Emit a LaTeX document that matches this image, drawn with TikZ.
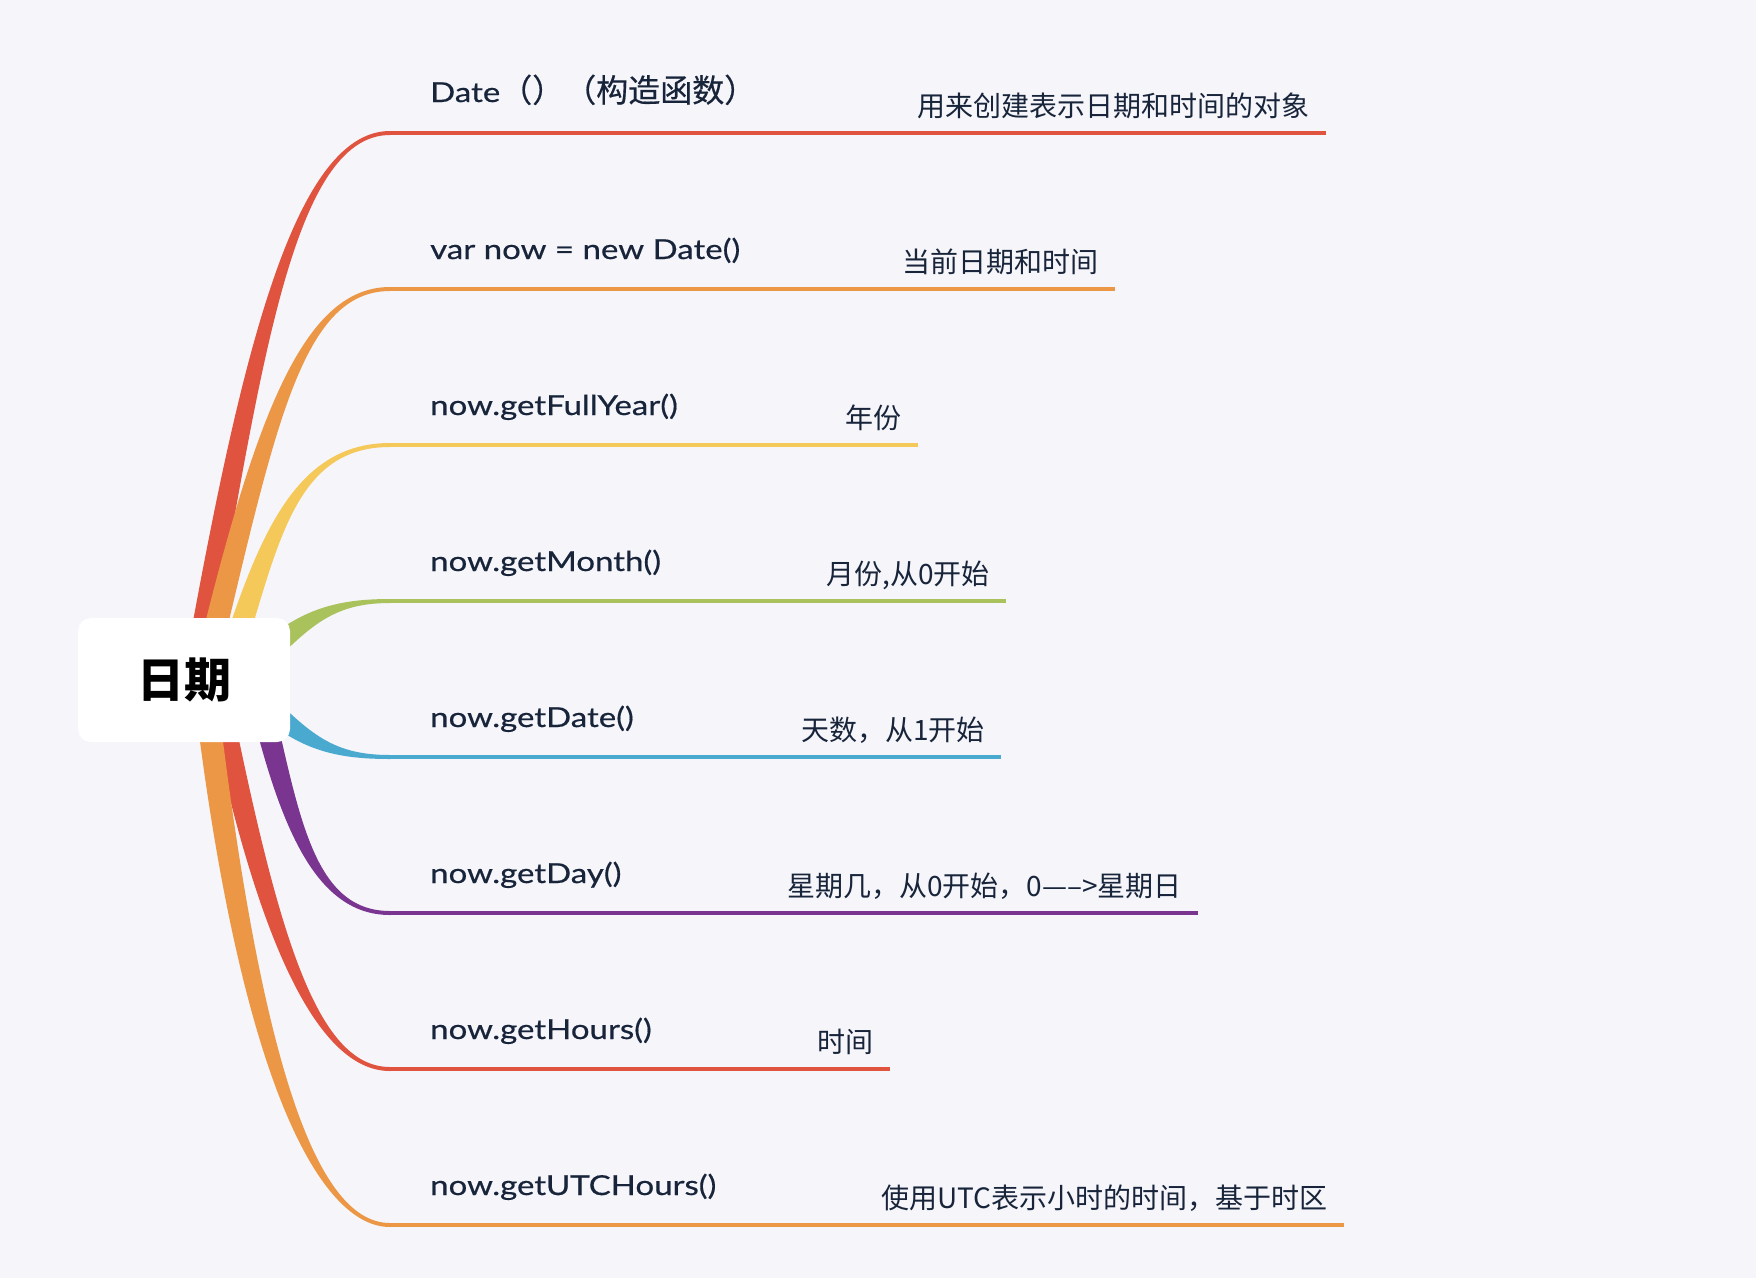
\documentclass[tikz,border=0pt]{standalone}
\usepackage{fontspec}
\setmainfont{Lato}[FakeStretch=1.2, FakeBold=0.5]
\newfontfamily\cjk{Noto Sans CJK SC}
\newfontfamily\cjkm{Noto Sans CJK SC}[FakeBold=0.5]
\usetikzlibrary{calc}
\definecolor{bg}{HTML}{F5F5FA}
\definecolor{cred}{HTML}{E0533F}
\definecolor{corange}{HTML}{EC9746}
\definecolor{cyellow}{HTML}{F5C959}
\definecolor{cgreen}{HTML}{A9C25B}
\definecolor{cblue}{HTML}{4AA9CF}
\definecolor{cpurple}{HTML}{7A3590}
\definecolor{ink}{HTML}{17243A}
\newcommand\taper[5]{%
  \path ($(#1)!11.5pt!90:(#2)$) coordinate (ta0)
        ($(#1)!11.5pt!-90:(#2)$) coordinate (tb0)
        ($(#4)!2pt!-90:(#3)$) coordinate (ta3)
        ($(#4)!2pt!90:(#3)$) coordinate (tb3);
  \fill[#5] (ta0) .. controls ($(#2)+(ta0)-(#1)$) and ($(#3)+(ta3)-(#4)$) .. (ta3)
     -- (tb3) .. controls ($(#3)+(tb3)-(#4)$) and ($(#2)+(tb0)-(#1)$) .. (tb0) -- cycle;
}
\tikzset{
  lbl/.style={anchor=base west, inner sep=0pt, text=ink, font=\fontsize{27.5}{32}\selectfont},
  rlbl/.style={anchor=base east, inner sep=0pt, text=ink, font=\cjk\fontsize{28}{32}\selectfont},
  hline/.style={line width=4pt},
}
\begin{document}
\begin{tikzpicture}[x=1pt,y=-1pt]
\fill[bg] (0,0) rectangle (1756,1278);
\useasboundingbox (0,0) rectangle (1756,1278);
% branch geometry
\coordinate (s1) at (194,680); \coordinate (u1) at (248,380); \coordinate (v1) at (290,133); \coordinate (e1) at (390,133); \coordinate (f1) at (1326,133);
\coordinate (s2) at (203,680); \coordinate (u2) at (263,430); \coordinate (v2) at (300,289); \coordinate (e2) at (390,289); \coordinate (f2) at (1115,289);
\coordinate (s3) at (224,680); \coordinate (u3) at (266,550); \coordinate (v3) at (290,445); \coordinate (e3) at (390,445); \coordinate (f3) at (918,445);
\coordinate (s4) at (250,670); \coordinate (u4) at (300,620); \coordinate (v4) at (330,601); \coordinate (e4) at (390,601); \coordinate (f4) at (1006,601);
\coordinate (s5) at (250,690); \coordinate (u5) at (300,740); \coordinate (v5) at (330,757); \coordinate (e5) at (390,757); \coordinate (f5) at (1001,757);
\coordinate (s6) at (256,680); \coordinate (u6) at (287,810); \coordinate (v6) at (310,913); \coordinate (e6) at (390,913); \coordinate (f6) at (1198,913);
\coordinate (s7) at (215,680); \coordinate (u7) at (265,930); \coordinate (v7) at (315,1069); \coordinate (e7) at (390,1069); \coordinate (f7) at (890,1069);
\coordinate (s8) at (204,680); \coordinate (u8) at (250,1080); \coordinate (v8) at (320,1225); \coordinate (e8) at (390,1225); \coordinate (f8) at (1344,1225);
\taper{s1}{u1}{v1}{e1}{cred}
\taper{s2}{u2}{v2}{e2}{corange}
\taper{s3}{u3}{v3}{e3}{cyellow}
\taper{s4}{u4}{v4}{e4}{cgreen}
\taper{s5}{u5}{v5}{e5}{cblue}
\taper{s6}{u6}{v6}{e6}{cpurple}
\taper{s7}{u7}{v7}{e7}{cred}
\taper{s8}{u8}{v8}{e8}{corange}
\draw[hline, cred] (e1) -- (f1);
\draw[hline, corange] (e2) -- (f2);
\draw[hline, cyellow] (e3) -- (f3);
\draw[hline, cgreen] (e4) -- (f4);
\draw[hline, cblue] (e5) -- (f5);
\draw[hline, cpurple] (e6) -- (f6);
\draw[hline, cred] (e7) -- (f7);
\draw[hline, corange] (e8) -- (f8);
% central topic
\node[fill=white, rounded corners=13pt, minimum width=212pt, minimum height=124pt, inner sep=0pt,
      font=\cjk\bfseries\fontsize{47}{50}\selectfont, text=black] (root) at (184,680) {日期};
% left labels
\node[lbl] (L1) at (430,102) {Date{\cjkm\fontsize{32}{36}\selectfont （）（构造函数）}};
\node[lbl] (L2) at (430,259) {var now = new Date()};
\node[lbl] (L3) at (430,415) {now.getFullYear()};
\node[lbl] (L4) at (430,571) {now.getMonth()};
\node[lbl] (L5) at (430,727) {now.getDate()};
\node[lbl] (L6) at (430,883) {now.getDay()};
\node[lbl] (L7) at (430,1039) {now.getHours()};
\node[lbl] (L8) at (430,1195) {now.getUTCHours()};
% right labels
\node[rlbl] (R1) at (1310,116) {用来创建表示日期和时间的对象};
\node[rlbl] (R2) at (1099,272) {当前日期和时间};
\node[rlbl] (R3) at (902,428) {年份};
\node[rlbl] (R4) at (990,584) {月份,从0开始};
\node[rlbl] (R5) at (985,740) {天数，从1开始};
\node[rlbl] (R6) at (1182,896) {星期几，从0开始，0—–>星期日};
\node[rlbl] (R7) at (874,1052) {时间};
\node[rlbl] (R8) at (1328,1208) {使用UTC表示小时的时间，基于时区};
\end{tikzpicture}
\end{document}
